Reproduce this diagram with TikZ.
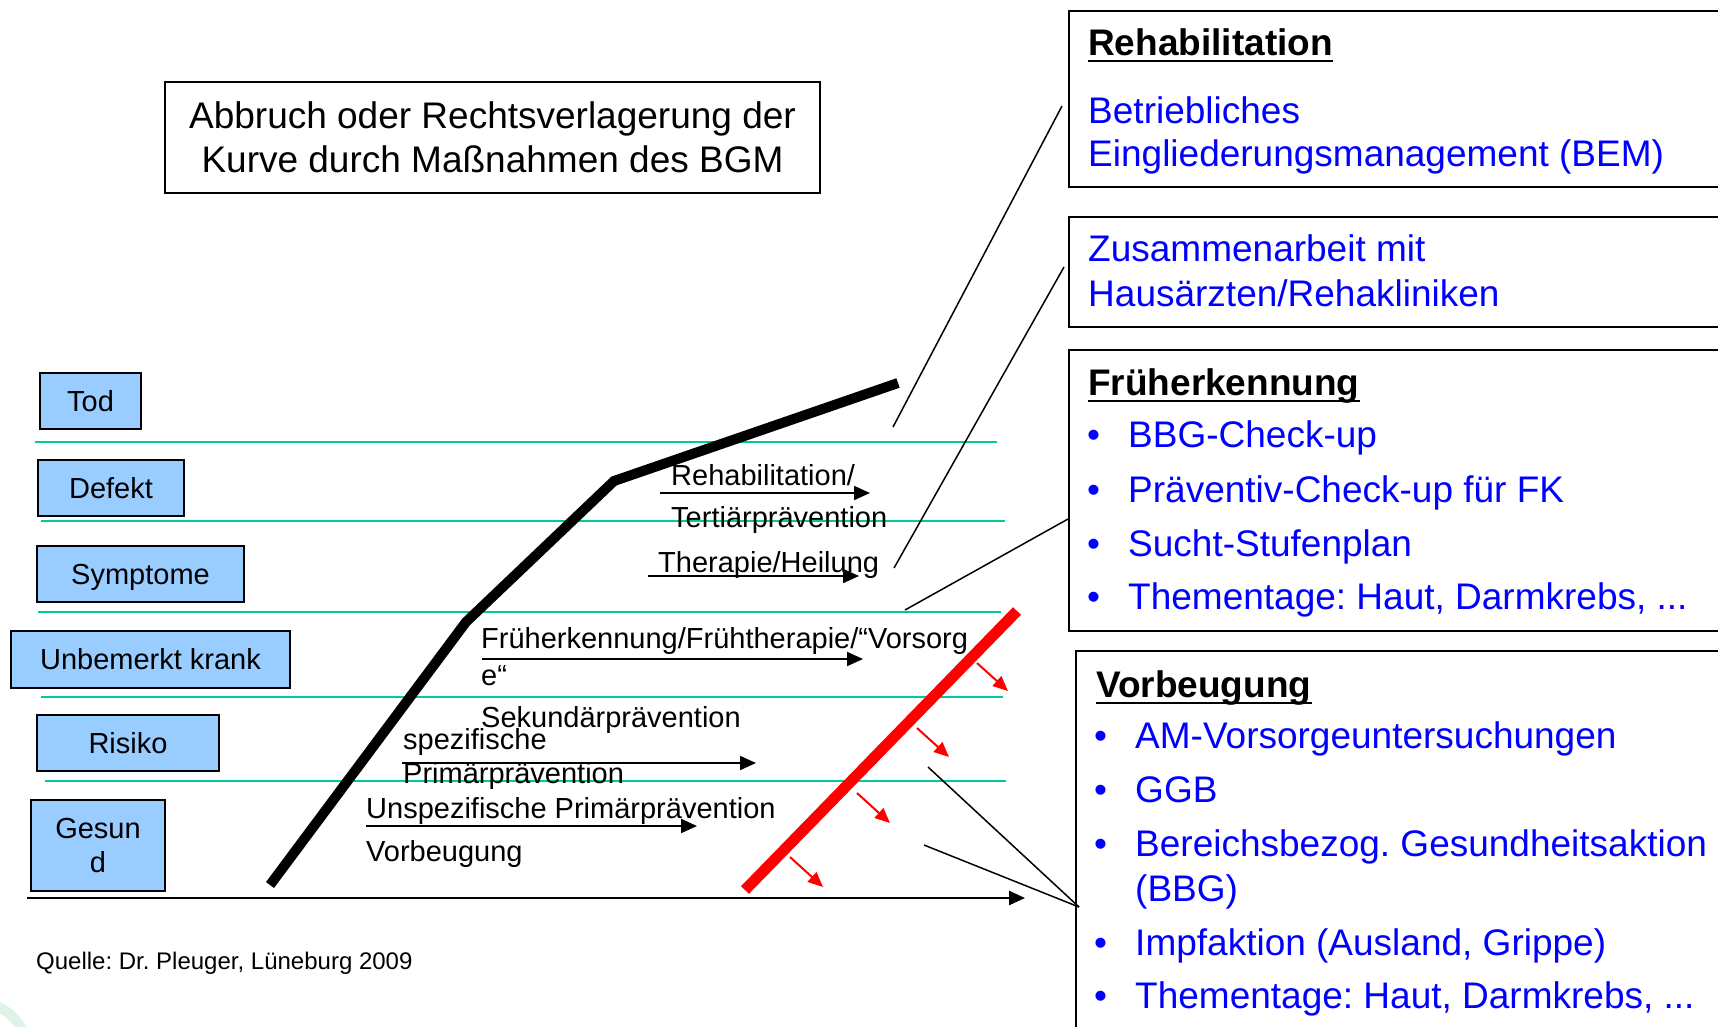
\documentclass[tikz,border=0pt]{standalone}
\usepackage{fontspec}
\setmainfont{Liberation Sans}
\usetikzlibrary{arrows.meta}
\frenchspacing
\definecolor{boxblue}{RGB}{153,204,255}
\definecolor{levelgreen}{RGB}{0,204,153}
\definecolor{txtblue}{RGB}{0,0,255}
\definecolor{logogreen}{RGB}{222,242,230}
\tikzset{
  lvlbox/.style={draw=black, line width=2pt, fill=boxblue, inner sep=0pt, align=center, font=\fontsize{29}{34}\selectfont},
  lvlline/.style={draw=levelgreen, line width=2pt},
  lbl/.style={inner sep=0pt, anchor=base west, font=\fontsize{29}{35}\selectfont},
  parr/.style={line width=2pt, -{Triangle[length=16pt,width=14pt]}},
  rarr/.style={draw=red, line width=2pt, -{Triangle[length=15pt,width=13pt]}},
  infobox/.style={draw=black, line width=2pt, inner sep=0pt, anchor=north west},
  hdr/.style={inner sep=0pt, anchor=base west, font=\fontsize{37}{44}\selectfont\bfseries},
  itemtxt/.style={inner sep=0pt, anchor=base west, font=\fontsize{37}{44}\selectfont, text=txtblue},
  uline/.style={line width=2.5pt},
  conn/.style={draw=black, line width=1.5pt},
}
\begin{document}
\begin{tikzpicture}[x=1pt,y=-1pt]
\useasboundingbox (0,0) rectangle (1718,1026);
\clip (0,0) rectangle (1718,1026);
\fill[white] (0,0) rectangle (1718,1026);

% faint logo remnant
\draw[logogreen, line width=10pt] (-4,1006) .. controls (8,1011) and (16,1018) .. (24,1032);

% title box
\node[draw=black, line width=2pt, minimum width=655pt, minimum height=111pt, inner sep=0pt, align=center,
      font=\fontsize{37}{44}\selectfont] (title) at (492.5,137.5)
      {Abbruch oder Rechtsverlagerung der\\Kurve durch Maßnahmen des BGM};

% level lines
\draw[lvlline] (35,442) -- (997,442);
\draw[lvlline] (41,521) -- (1005,521);
\draw[lvlline] (38,612) -- (1001,612);
\draw[lvlline] (41,697) -- (1003,697);
\draw[lvlline] (45,781) -- (1006,781);

% level boxes
\node[lvlbox, minimum width=101pt, minimum height=56pt] (tod) at (90.5,401) {Tod};
\node[lvlbox, minimum width=146pt, minimum height=56pt] (defekt) at (111,488) {Defekt};
\node[lvlbox, minimum width=207pt, minimum height=56pt, text depth=0pt] (sympt) at (140.5,574) {Symptome};
\node[lvlbox, minimum width=279pt, minimum height=57pt] (unbem) at (150.5,659.5) {Unbemerkt krank};
\node[lvlbox, minimum width=182pt, minimum height=56pt] (risiko) at (128,743) {Risiko};
\node[lvlbox, minimum width=134pt, minimum height=91pt] (gesund) at (98,845.5) {Gesun\\d};

% axis
\coordinate (axs) at (27,898);
\coordinate (axe) at (1025,898);
\draw[line width=2.5pt, -{Triangle[length=16pt,width=14pt]}] (axs) -- (axe);

% disease curve
\draw[line width=10pt] (270,885) -- (466,622) -- (614,481) -- (898,383);

% red barrier
\draw[red, line width=11pt] (745,890) -- (1017,611);
\draw[rarr] (977,663) -- (1008,691);
\draw[rarr] (917,728) -- (949,757);
\draw[rarr] (857,793) -- (890,823);
\draw[rarr] (790,857) -- (823,887);

% centre labels
\node[lbl] (l1) at (671,485) {Rehabilitation/};
\node[lbl] (l2) at (671,527) {Tertiärprävention};
\node[lbl] (l3) at (658,572) {Therapie/Heilung};
\node[lbl] (l4) at (481,648) {Früherkennung/Frühtherapie/“Vorsorg};
\node[lbl] (l5) at (481,685) {e“};
\node[lbl] (l6) at (481,727) {Sekundärprävention};
\node[lbl] (l7) at (403,749) {spezifische};
\node[lbl] (l8) at (403,783) {Primärprävention};
\node[lbl] (l9) at (366,818) {Unspezifische Primärprävention};
\node[lbl] (l10) at (366,861) {Vorbeugung};

\draw[parr] (660,493) -- (870,493);
\draw[parr] (648,576) -- (859,576);
\draw[parr] (482,659) -- (863,659);
\draw[parr] (402,763) -- (756,763);
\draw[parr] (366,826) -- (697,826);

% right boxes
\node[infobox, minimum width=720pt, minimum height=176pt] (rehab) at (1068,10) {};
\node[infobox, minimum width=720pt, minimum height=110pt] (haus) at (1068,216) {};
\node[infobox, minimum width=720pt, minimum height=281pt] (frueh) at (1068,349) {};
\node[infobox, minimum width=720pt, minimum height=420pt] (vorb) at (1075,650) {};

\node[hdr] (h1) at (1088,55) {Rehabilitation};
\draw[uline] ([yshift=-6pt]h1.base west) -- ([yshift=-6pt]h1.base east);
\node[itemtxt] (r1) at (1088,123) {Betriebliches};
\node[itemtxt] (r2) at (1088,166) {Eingliederungsmanagement (BEM)};

\node[itemtxt] (z1) at (1088,261) {Zusammenarbeit mit};
\node[itemtxt] (z2) at (1088,306) {Hausärzten/Rehakliniken};

\node[hdr] (h3) at (1088,395) {Früherkennung};
\draw[uline] ([yshift=-6pt]h3.base west) -- ([yshift=-6pt]h3.base east);
\node[itemtxt] (fb1) at (1087,447) {•};
\node[itemtxt] (f1) at (1128,447) {BBG-Check-up};
\node[itemtxt] (fb2) at (1087,502) {•};
\node[itemtxt] (f2) at (1128,502) {Präventiv-Check-up für FK};
\node[itemtxt] (fb3) at (1087,556) {•};
\node[itemtxt] (f3) at (1128,556) {Sucht-Stufenplan};
\node[itemtxt] (fb4) at (1087,609) {•};
\node[itemtxt] (f4) at (1128,609) {Thementage: Haut, Darmkrebs, ...};

\node[hdr] (h4) at (1096,697) {Vorbeugung};
\draw[uline] ([yshift=-6pt]h4.base west) -- ([yshift=-6pt]h4.base east);
\node[itemtxt] (vb1) at (1094,748) {•};
\node[itemtxt] (v1) at (1135,748) {AM-Vorsorgeuntersuchungen};
\node[itemtxt] (vb2) at (1094,802) {•};
\node[itemtxt] (v2) at (1135,802) {GGB};
\node[itemtxt] (vb3) at (1094,856) {•};
\node[itemtxt] (v3) at (1135,856) {Bereichsbezog. Gesundheitsaktion};
\node[itemtxt] (v3b) at (1135,901) {(BBG)};
\node[itemtxt] (vb4) at (1094,955) {•};
\node[itemtxt] (v4) at (1135,955) {Impfaktion (Ausland, Grippe)};
\node[itemtxt] (vb5) at (1094,1008) {•};
\node[itemtxt] (v5) at (1135,1008) {Thementage: Haut, Darmkrebs, ...};

% connectors
\coordinate (c1s) at (893,427);
\coordinate (c1e) at (1062,106);
\coordinate (c2s) at (894,568);
\coordinate (c2e) at (1064,267);
\coordinate (c3s) at (905,610);
\coordinate (c3e) at (1068,519);
\coordinate (c4s) at (928,767);
\coordinate (c5s) at (924,845);
\coordinate (c45e) at (1079,907);
\draw[conn] (c1s) -- (c1e);
\draw[conn] (c2s) -- (c2e);
\draw[conn] (c3s) -- (c3e);
\draw[conn] (c4s) -- (c45e);
\draw[conn] (c5s) -- (c45e);

% source
\node[inner sep=0pt, anchor=base west, font=\fontsize{24}{29}\selectfont] (quelle) at (36,969) {Quelle: Dr. Pleuger, Lüneburg 2009};
\end{tikzpicture}
\end{document}
